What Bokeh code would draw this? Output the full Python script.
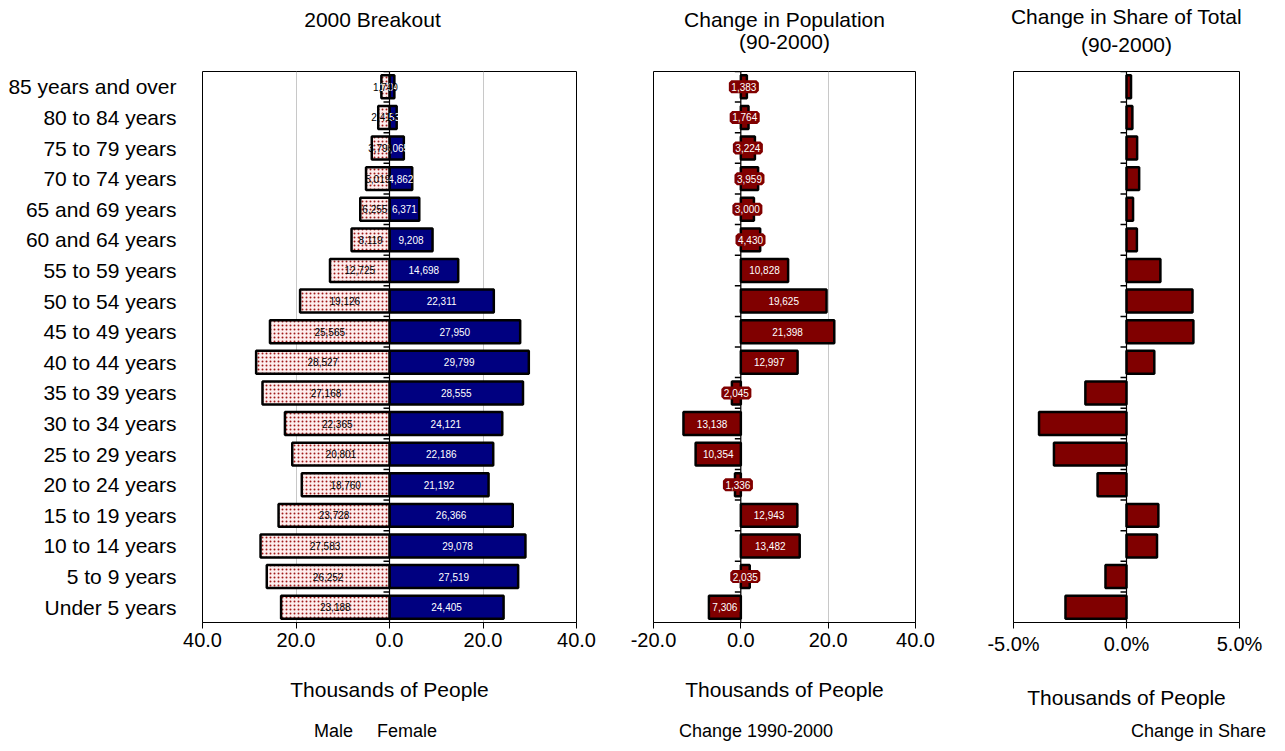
from bokeh.plotting import figure
from bokeh.models import (ColumnDataSource, FactorRange, Range1d, FixedTicker, LabelSet, Label,
                          Span, Legend, LegendItem, NumeralTickFormatter, CDSView, GroupFilter)
from bokeh.transform import dodge
from bokeh.layouts import row, column
from bokeh.embed import file_html
from bokeh.resources import INLINE
from bokeh.core.properties import value

categories = ["Under 5 years", "5 to 9 years", "10 to 14 years", "15 to 19 years",
              "20 to 24 years", "25 to 29 years", "30 to 34 years", "35 to 39 years",
              "40 to 44 years", "45 to 49 years", "50 to 54 years", "55 to 59 years",
              "60 and 64 years", "65 and 69 years", "70 to 74 years", "75 to 79 years",
              "80 to 84 years", "85 years and over"]
male = [24405, 27519, 29078, 26366, 21192, 22186, 24121, 28555, 29799, 27950,
        22311, 14698, 9208, 6371, 4862, 3065, 1535, 1040]
female = [23188, 26252, 27583, 23728, 18760, 20801, 22365, 27168, 28527, 25565,
          19126, 12725, 8119, 6255, 5019, 3790, 2413, 1740]
change = [-7306, 2035, 13482, 12943, -1336, -10354, -13138, -2045, 12997, 21398,
          19625, 10828, 4430, 3000, 3959, 3224, 1764, 1383]
share_change = [-0.0270, -0.0093, 0.0135, 0.0141, -0.0128, -0.0321, -0.0387, -0.0182,
                0.0123, 0.0296, 0.0292, 0.0150, 0.0046, 0.0029, 0.0056, 0.0047,
                0.0026, 0.0020]

FONT = "Liberation Sans"
NAVY = "#000080"
MAROON = "#800000"
FRAME_H = 551
TITLE_H = 71
LEG_H = 38
WIDTHS = [615, 350, 312]

src = ColumnDataSource(dict(
    cat=categories,
    male=[m / 1000 for m in male],
    male_mid=[m / 2000 for m in male],
    male_lbl=[f"{m:,}" for m in male],
    fem=[-f / 1000 for f in female],
    fem_mid=[-f / 2000 for f in female],
    fem_lbl=[f"{f:,}" for f in female],
    chg=[c / 1000 for c in change],
    chg_mid=[c / 2000 for c in change],
    chg_lbl=[f"{abs(c):,}" for c in change],
    share=share_change,
    zero=[0] * len(categories),
))

MALE_STYLE = dict(fill_color=NAVY, line_color="black", line_width=2.5)
FEMALE_STYLE = dict(fill_color="#fdeeee", hatch_pattern="dot", hatch_color="#a01818",
                    hatch_scale=4, hatch_weight=1.8, line_color="black", line_width=2.5)
MAROON_STYLE = dict(fill_color=MAROON, line_color="black", line_width=2.5)


def blank_fig(width, height):
    p = figure(width=width, height=height, x_range=Range1d(0, 1), y_range=Range1d(0, 1),
               output_backend="svg", toolbar_location=None, title=None,
               x_axis_location=None, y_axis_location=None, min_border=0)
    p.outline_line_color = None
    p.grid.grid_line_color = None
    return p


def title_fig(width, lines):
    p = blank_fig(width, TITLE_H)
    for text, cx, cy in lines:
        p.add_layout(Label(x=cx, y=TITLE_H - cy, x_units="screen", y_units="screen",
                           text=text, text_align="center", text_baseline="middle",
                           text_font=FONT, text_font_size="21px", text_color="black"))
    return p


def legend_fig(width, entries, left):
    p = blank_fig(width, LEG_H)
    items = []
    for label, style in entries:
        # legend-only renderer: uses the chart's source, every row filtered out of the view
        view = CDSView(filter=GroupFilter(column_name="cat", group="__legend_only__"))
        r = p.hbar(y="zero", right="zero", left=0, height=0.5, source=src, view=view, **style)
        items.append(LegendItem(label=label, renderers=[r]))
    leg = Legend(items=items, orientation="horizontal", location=(left, 8),
                 border_line_color=None, background_fill_alpha=0,
                 label_text_font=FONT, label_text_font_size="18px",
                 label_text_color="black",
                 glyph_width=14, glyph_height=14, label_standoff=2, spacing=8,
                 padding=0, margin=0)
    p.add_layout(leg)
    return p


def base_fig(frame_w, x_range, left_border, right_border):
    p = figure(frame_width=frame_w, frame_height=FRAME_H, title=None,
               y_range=FactorRange(factors=categories, range_padding=0),
               x_range=x_range, output_backend="svg", toolbar_location=None,
               min_border_left=left_border, min_border_right=right_border,
               min_border_top=0, min_border_bottom=90)
    p.outline_line_color = "black"
    p.outline_line_width = 1
    p.ygrid.grid_line_color = None
    p.xgrid.grid_line_color = "#c8c8c8"
    p.xaxis.axis_line_color = "black"
    p.xaxis.major_tick_line_color = "black"
    p.xaxis.major_tick_out = 6
    p.xaxis.major_tick_in = 0
    p.xaxis.minor_tick_line_color = None
    p.xaxis.major_label_text_font = FONT
    p.xaxis.major_label_text_font_size = "20px"
    p.xaxis.major_label_text_color = "black"
    p.xaxis.major_label_standoff = 4
    p.xaxis.axis_label = "Thousands of People"
    p.xaxis.axis_label_text_font = FONT
    p.xaxis.axis_label_text_font_size = "21px"
    p.xaxis.axis_label_text_font_style = "normal"
    p.xaxis.axis_label_text_color = "black"
    p.xaxis.axis_label_standoff = 28
    p.yaxis.axis_line_color = None
    p.yaxis.major_tick_line_color = None
    p.yaxis.minor_tick_line_color = None
    p.yaxis.major_label_text_font = FONT
    p.yaxis.major_label_text_font_size = "21px"
    p.yaxis.major_label_text_color = "black"
    p.yaxis.major_label_standoff = 20
    p.add_layout(Span(location=0, dimension="height", line_color="black", line_width=1.2))
    p.ray(x="zero", y=dodge("cat", 0.5, range=p.y_range), length=6, length_units="screen",
          angle=3.14159265, line_color="black", line_width=1.5, source=src)
    return p


def bar_labels(x, text, color, **kw):
    return LabelSet(x=x, y="cat", text=text, source=src, text_align="center",
                    text_baseline="middle", text_color=color, text_font=value(FONT),
                    text_font_size=value("10px"), **kw)


# ---------- 2000 Breakout ----------
p1 = base_fig(374, Range1d(-40, 40), 202, 39)
p1.xaxis.ticker = FixedTicker(ticks=[-40, -20, 0, 20, 40])
p1.xaxis.major_label_overrides = {-40: "40.0", -20: "20.0", 0: "0.0", 20: "20.0", 40: "40.0"}
p1.hbar(y="cat", left=0, right="male", height=0.75, source=src, **MALE_STYLE)
p1.hbar(y="cat", left="fem", right=0, height=0.75, source=src, **FEMALE_STYLE)
p1.add_layout(bar_labels("male_mid", "male_lbl", "white"))
p1.add_layout(bar_labels("fem_mid", "fem_lbl", "black"))

# ---------- Change in Population ----------
p2 = base_fig(262, Range1d(-20, 40), 38, 50)
p2.yaxis.major_label_text_font_size = "0px"
p2.yaxis.major_label_standoff = 0
p2.xaxis.ticker = FixedTicker(ticks=[-20, 0, 20, 40])
p2.xaxis.formatter = NumeralTickFormatter(format="0.0")
p2.hbar(y="cat", left=0, right="chg", height=0.75, source=src, **MAROON_STYLE)
p2.add_layout(bar_labels("chg_mid", "chg_lbl", "white", background_fill_color=MAROON,
                         border_line_color=MAROON, border_line_width=5))

# ---------- Change in Share of Total ----------
p3 = base_fig(226, Range1d(-0.05, 0.05), 48, 38)
p3.yaxis.major_label_text_font_size = "0px"
p3.yaxis.major_label_standoff = 0
p3.xgrid.grid_line_color = None
p3.xaxis.ticker = FixedTicker(ticks=[-0.05, 0, 0.05])
p3.xaxis.formatter = NumeralTickFormatter(format="0.0%")
p3.hbar(y="cat", left=0, right="share", height=0.75, source=src, **MAROON_STYLE)

t1 = title_fig(WIDTHS[0], [("2000 Breakout", 372, 19)])
t2 = title_fig(WIDTHS[1], [("Change in Population", 169, 19), ("(90-2000)", 169, 41)])
t3 = title_fig(WIDTHS[2], [("Change in Share of Total", 161, 16), ("(90-2000)", 161, 44)])

l1 = legend_fig(WIDTHS[0], [("Male", MALE_STYLE), ("Female", FEMALE_STYLE)], 298)
l2 = legend_fig(WIDTHS[1], [("Change 1990-2000", MAROON_STYLE)], 48)
l3 = legend_fig(WIDTHS[2], [("Change in Share", MAROON_STYLE)], 150)

layout = column(row(t1, t2, t3, spacing=0), row(p1, p2, p3, spacing=0),
                row(l1, l2, l3, spacing=0), spacing=0)
open("out.html", "w").write(file_html(layout, INLINE))
